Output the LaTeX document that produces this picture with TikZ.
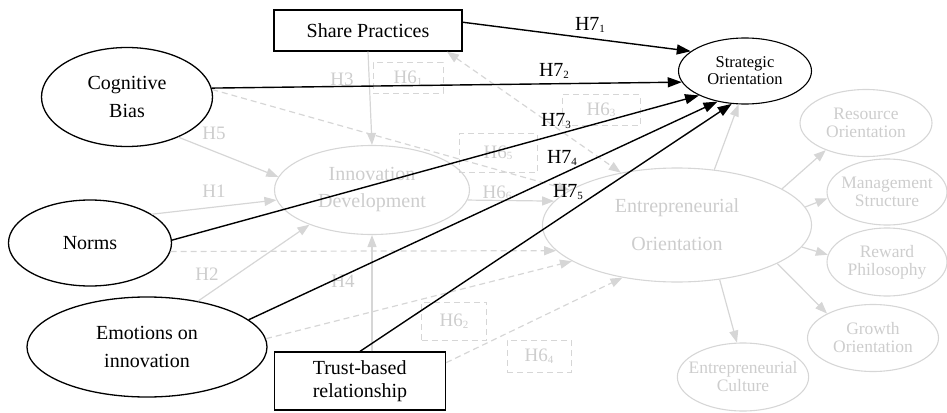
\documentclass[tikz,border=0pt]{standalone}
\usepackage{fontspec}
\setmainfont{Liberation Serif}
\usetikzlibrary{shapes.geometric,arrows.meta}
\definecolor{lg}{HTML}{D6D6D6}
\definecolor{lgt}{HTML}{CDCDCD}
\newcommand{\hsub}[1]{\raisebox{-1.5pt}{\fontsize{11}{11}\selectfont #1}}
\begin{document}
\begin{tikzpicture}[x=1pt,y=-1pt,
  blkell/.style={ellipse,draw=black,line width=1.3pt,inner sep=0pt,align=center,font=\fontsize{20}{28}\selectfont},
  blkrect/.style={rectangle,draw=black,line width=1.3pt,inner sep=0pt,align=center,font=\fontsize{20}{24}\selectfont},
  gell/.style={ellipse,draw=lg,line width=1.1pt,inner sep=0pt,align=center,text=lgt,font=\fontsize{20}{27}\selectfont},
  sell/.style={ellipse,draw=lg,line width=1.1pt,inner xsep=-8pt,inner ysep=0pt,align=center,text=lgt,font=\fontsize{17.5}{18}\selectfont},
  dbox/.style={rectangle,draw=lg,line width=1pt,dash pattern=on 6pt off 4pt,inner sep=0pt,text=lgt,font=\fontsize{19}{20}\selectfont},
  glab/.style={text=lgt,inner sep=0pt,font=\fontsize{19}{20}\selectfont},
  blab/.style={text=black,inner sep=0pt,font=\fontsize{20}{20}\selectfont},
  garrow/.style={draw=lg,line width=1.2pt,-{Triangle[length=12pt,width=9pt]}},
  gdash/.style={garrow,dash pattern=on 6pt off 4pt},
  barrow/.style={draw=black,line width=1.4pt,-{Triangle[length=14pt,width=10pt]}}
]
\useasboundingbox (0,0) rectangle (947,412);

% gray (background) nodes
\node[gell,minimum width=195pt,minimum height=89pt] (innov) at (372,190) {Innovation\\Development};
\node[gell,minimum width=269pt,minimum height=114pt,font=\fontsize{20}{38}\selectfont] (eo) at (677,225) {Entrepreneurial\\Orientation};
\node[sell,minimum width=132pt,minimum height=67pt] (res) at (866,123) {Resource\\Orientation};
\node[sell,minimum width=120pt,minimum height=66pt] (mgmt) at (887,192) {Management\\Structure};
\node[sell,minimum width=120pt,minimum height=68pt] (rew) at (887,262) {Reward\\Philosophy};
\node[sell,minimum width=131pt,minimum height=67pt] (grow) at (873,338) {Growth\\Orientation};
\node[sell,minimum width=130pt,minimum height=68pt] (cult) at (743,377) {Entrepreneurial\\Culture};

% dashed hypothesis boxes
\node[dbox,minimum width=70pt,minimum height=30pt] (h61) at (408,78) {H6\hsub{1}};
\node[dbox,minimum width=78pt,minimum height=31pt] (h63) at (601,110) {H6\hsub{3}};
\node[dbox,minimum width=78pt,minimum height=39pt] (h65) at (498,153) {H6\hsub{5}};
\node[dbox,minimum width=65pt,minimum height=38pt] (h62) at (454,321) {H6\hsub{2}};
\node[dbox,minimum width=64pt,minimum height=32pt] (h64) at (539,356) {H6\hsub{4}};

% gray labels
\node[glab] (h3) at (342,79) {H3};
\node[glab] (h5) at (214,133) {H5};
\node[glab] (h1) at (214,191) {H1};
\node[glab] (h2) at (207,274) {H2};
\node[glab] (h4) at (343,281) {H4};
\node[glab] (h66) at (497,193) {H6\hsub{6}};

% black nodes
\node[blkrect,minimum width=188pt,minimum height=41pt] (sp) at (368,30.5) {Share Practices};
\node[blkell,minimum width=171pt,minimum height=99pt] (cog) at (127,97) {Cognitive\\Bias};
\node[blkell,minimum width=133pt,minimum height=66pt,line width=1.1pt,font=\fontsize{16.5}{17}\selectfont] (strat) at (745,71) {Strategic\\Orientation};
\node[blkell,minimum width=163pt,minimum height=86pt] (norms) at (90,243) {Norms};
\node[blkell,minimum width=240pt,minimum height=100pt] (emo) at (147,347) {Emotions on\\innovation};
\node[blkrect,minimum width=171pt,minimum height=58pt,align=left,font=\fontsize{20}{23}\selectfont] (trust) at (360,381) {Trust-based\\relationship};

% gray solid arrows
\draw[garrow] (sp.south) -- (innov.north);
\draw[garrow] (innov.south |- trust.north) -- (innov.south);
\draw[garrow] (cog.322) -- (innov.172);
\draw[garrow] (norms.25) -- (innov.186);
\draw[garrow] (emo.42) -- (innov.209);
\draw[garrow] (innov.354) -- (eo.169);
\draw[garrow] (eo.56) -- (strat.259);
\draw[garrow] (eo.19) -- (res.214);
\draw[garrow] (eo.8) -- (mgmt.186);
\draw[garrow] (eo.350) -- (rew.173);
\draw[garrow] (eo.339) -- (grow.152);
\draw[garrow] (eo.308) -- (cult.100);

% gray dashed arrows
\draw[gdash] (cog.5) -- (eo.162);
\draw[gdash,{Triangle[length=12pt,width=9pt]}-{Triangle[length=12pt,width=9pt]}] (sp.-15) -- (eo.137);
\draw[gdash] (norms.354) -- (eo.192);
\draw[gdash] (emo.4) -- (eo.199);
\draw[gdash] (trust.12) -- (eo.224);

% black arrows
\draw[barrow] (sp.5) -- (strat.160);
\draw[barrow] (cog.6) -- (strat.190);
\draw[barrow] (norms.2) -- (strat.208);
\draw[barrow] (emo.15) -- (strat.228);
\draw[barrow] (trust.north) -- (strat.248);

% black labels
\node[blab] (h71) at (590,25) {H7\hsub{1}};
\node[blab] (h72) at (554,71) {H7\hsub{2}};
\node[blab] (h73) at (556,121) {H7\hsub{3}};
\node[blab] (h74) at (562,158) {H7\hsub{4}};
\node[blab] (h75) at (568,192) {H7\hsub{5}};
\end{tikzpicture}
\end{document}
